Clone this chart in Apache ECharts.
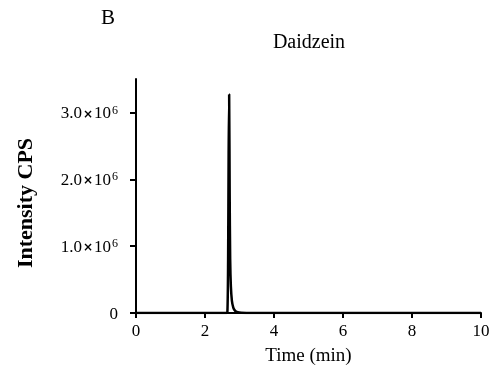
<!DOCTYPE html>
<html><head><meta charset="utf-8">
<script src="https://cdn.jsdelivr.net/npm/echarts@6/dist/echarts.min.js"></script>
<style>html,body{margin:0;padding:0;background:#fff}#c{width:495px;height:373px}</style>
</head><body><div id="c"></div>
<script>
const panelLabel = 'B';
const chartTitle = 'Daidzein';
const xName = 'Time (min)';
const yName = 'Intensity CPS';
const xTicks = [0, 2, 4, 6, 8, 10];
const yTicks = [0, 1e6, 2e6, 3e6];
const yTickMantissa = ['0', '1.0', '2.0', '3.0'];
const yTickExponent = ['', '6', '6', '6'];
const timeMin = [0, 1, 2, 2.5, 2.62, 2.65, 2.67, 2.685, 2.70, 2.715, 2.73, 2.75, 2.78, 2.82, 2.86, 2.9, 2.95, 3.05, 3.2, 3.5, 4, 6, 8, 10];
const intensity = [0, 0, 0, 0, 0, 2e4, 8e5, 2.4e6, 3.27e6, 1.8e6, 8e5, 4e5, 1.8e5, 8e4, 4e4, 2e4, 1e4, 4e3, 1.5e3, 500, 0, 0, 0, 0];

const font = '"Liberation Serif", "Times New Roman", serif';
const chart = echarts.init(document.getElementById('c'), null, {renderer: 'canvas'});
chart.setOption({
  animation: false,
  backgroundColor: '#fff',
  title: [
    {text: panelLabel, left: 96, top: 3, textStyle: {fontFamily: font, fontSize: 21, fontWeight: 'normal', color: '#000'}},
    {text: chartTitle, left: 304, textAlign: 'center', top: 28, textStyle: {fontFamily: font, fontSize: 20, fontWeight: 'normal', color: '#000'}}
  ],
  grid: {left: 136, right: 14, top: 79, bottom: 60},
  xAxis: {
    type: 'value', min: 0, max: 10, interval: 2,
    name: xName, nameLocation: 'middle', nameGap: 34,
    nameTextStyle: {fontFamily: font, fontSize: 19, color: '#000'},
    axisLine: {show: true, lineStyle: {color: '#000', width: 2}},
    axisTick: {show: true, length: 5, lineStyle: {color: '#000', width: 2}, customValues: xTicks},
    axisLabel: {fontFamily: font, fontSize: 17, color: '#000', margin: 10, customValues: xTicks},
    splitLine: {show: false}
  },
  yAxis: {
    type: 'value', min: 0, max: 3.5e6,
    name: yName, nameLocation: 'middle', nameGap: 99, nameRotate: 90,
    nameTextStyle: {fontFamily: font, fontSize: 22, fontWeight: 'bold', color: '#000', padding: [0, 14, 0, 0]},
    axisLine: {show: true, lineStyle: {color: '#000', width: 2}},
    axisTick: {show: true, length: 6, lineStyle: {color: '#000', width: 2}, customValues: yTicks},
    axisLabel: {color: '#000', margin: 18, customValues: yTicks,
      formatter: v => {
        const i = yTicks.indexOf(v);
        if (i < 0) return '';
        if (!yTickExponent[i]) return '{n|' + yTickMantissa[i] + '}';
        return '{n|' + yTickMantissa[i] + '}{x|×}{n|10}{s|' + yTickExponent[i] + '}';
      },
      rich: {
        n: {fontFamily: font, fontSize: 17, color: '#000', lineHeight: 20, verticalAlign: 'bottom'},
        x: {fontFamily: '"DejaVu Sans", sans-serif', fontSize: 12, fontWeight: 'bold', color: '#000', lineHeight: 20, verticalAlign: 'bottom', padding: [0, 1, 2, 1]},
        s: {fontFamily: font, fontSize: 12, color: '#000', lineHeight: 20, verticalAlign: 'top', padding: [2, 0, 0, 1]}
      }
    },
    splitLine: {show: false}
  },
  series: [{
    type: 'line', data: timeMin.map((t, i) => [t, intensity[i]]),
    showSymbol: false, smooth: 0.3, lineStyle: {color: '#000', width: 2.5}
  }]
});
</script></body></html>
